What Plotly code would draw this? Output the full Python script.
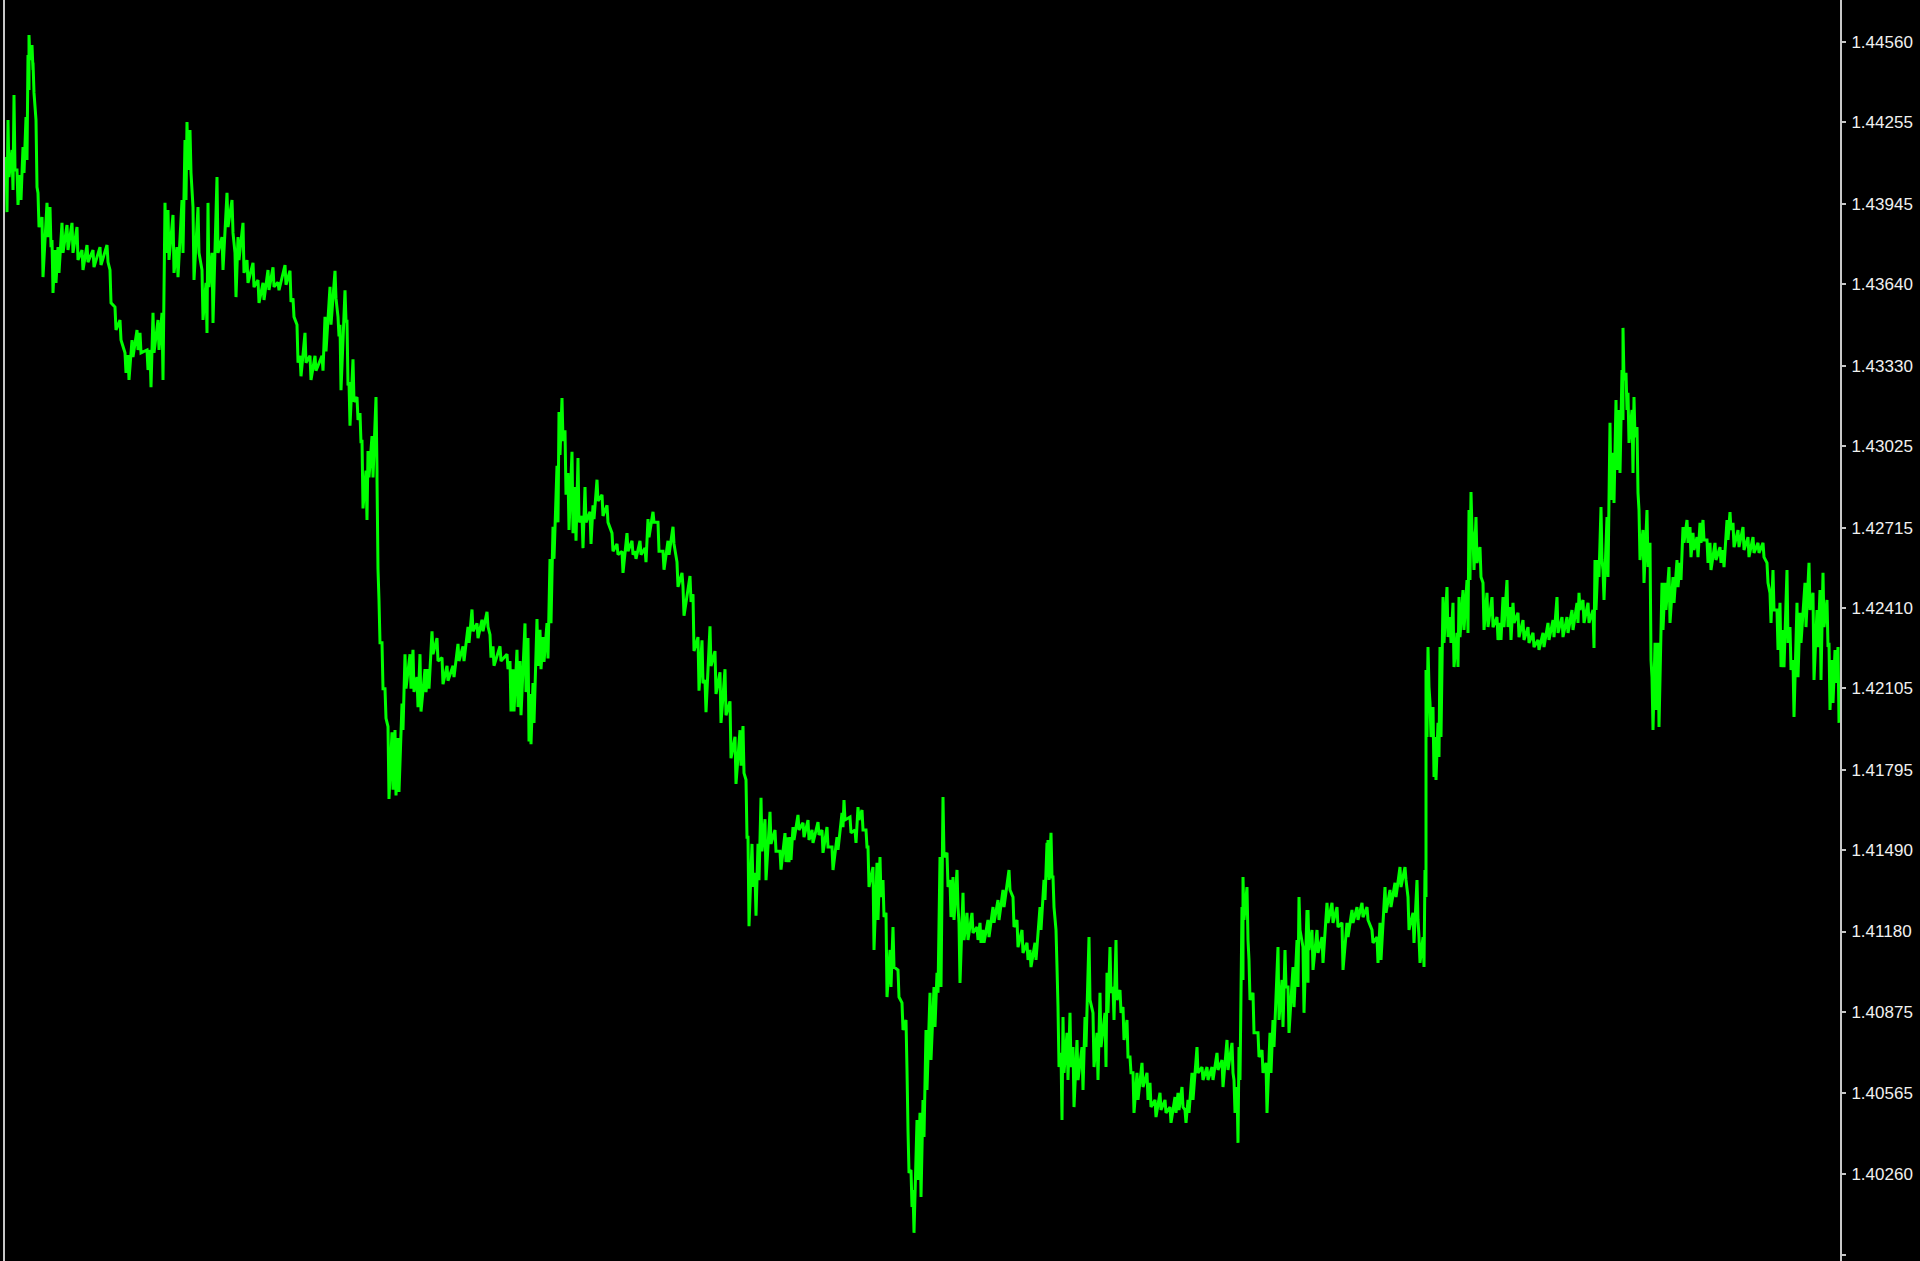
import plotly.graph_objects as go

# Bar index (time) and the upper / lower envelope of the close line per bar group
bars = [6,8,12,14,17,20,23,26,28,29,32,33,36,38,42,47,50,52,55,58,62,67,72,77,82,87,93,100,107,110,115,120,125,128,132,137,140,147,150,153,158,162,165,168,173,177,182,185,187,190,193,198,202,206,208,212,217,222,227,232,235,238,243,247,253,258,263,268,
        273,278,285,290,293,297,300,305,310,315,322,325,330,335,338,340,345,347,349,353,357,360,362,366,368,372,376,377,379,382,385,388,392,395,398,402,405,410,413,417,420,425,428,432,437,442,447,453,458,463,468,472,477,482,487,490,493,500,507,510,513,517,520,525,528,
        530,533,537,540,543,547,550,553,557,559,562,565,568,572,575,578,582,585,590,593,597,602,607,612,617,622,627,632,635,640,645,648,653,658,663,668,673,677,682,683,690,693,698,702,705,710,715,720,725,730,735,740,743,746,748,752,755,758,761,765,770,775,780,785,788,
        790,793,798,803,808,812,818,822,827,832,837,842,844,850,855,858,862,866,868,873,877,880,883,886,890,893,898,902,906,908,911,913,917,920,923,926,930,934,937,940,943,947,950,953,957,959,963,967,972,977,980,983,988,993,998,1003,1009,1013,1017,1022,1027,1030,1035,1040,1044,1047,
        1048,1051,1053,1056,1058,1061,1063,1067,1070,1073,1077,1082,1085,1089,1093,1097,1100,1105,1107,1110,1113,1116,1120,1123,1127,1130,1133,1137,1142,1147,1150,1155,1160,1165,1170,1175,1178,1182,1185,1188,1192,1197,1202,1207,1212,1217,1222,1227,1232,1234,1237,1239,1242,1243,1247,1249,1253,1258,1262,1266,1270,1273,1278,1282,1285,1288,1293,1297,1299,1303,1307,
        1308,1312,1317,1322,1327,1332,1337,1342,1347,1352,1357,1362,1367,1372,1377,1380,1385,1390,1395,1400,1405,1408,1413,1417,1419,1423,1425,1426,1428,1430,1433,1435,1438,1440,1443,1447,1450,1453,1457,1459,1463,1467,1469,1471,1473,1476,1480,1483,1487,1492,1497,1500,1503,1507,1510,1513,1518,1523,1528,1533,1538,1543,1548,1553,1557,1562,1567,
        1572,1577,1579,1583,1588,1593,1595,1598,1601,1603,1607,1610,1613,1616,1619,1622,1623,1626,1628,1632,1634,1637,1639,1643,1647,1650,1652,1655,1658,1662,1665,1669,1673,1677,1680,1683,1687,1690,1693,1697,1700,1703,1707,1710,1715,1720,1723,1727,1730,1733,1738,1743,1748,1753,1758,1763,1767,1770,1773,1777,1780,1783,1787,1790,1793,1797,1800,1805,1809,1813,1817,1820,1823,1827,1829,1832,1835,1838]

highs = [1.44123,1.44264,1.44150,1.44359,1.44074,1.44055,1.44161,1.44275,1.44511,1.44587,1.44549,1.44481,1.44264,1.43987,1.43895,1.43949,1.43933,1.43808,1.43770,1.43781,1.43873,1.43865,1.43873,1.43857,1.43770,1.43789,1.43770,1.43781,1.43789,1.43694,1.43553,1.43504,1.43379,1.43371,1.43428,1.43466,1.43455,1.43390,1.43390,1.43531,1.43504,1.43531,1.43949,1.43922,1.43903,1.43781,1.43960,1.44188,1.44256,1.44226,1.43933,1.43933,1.43694,1.43645,1.43949,1.43759,1.44047,1.43819,1.43987,1.43960,1.43759,1.43819,1.43873,1.43732,1.43721,1.43656,1.43645,1.43694,
         1.43704,1.43647,1.43713,1.43691,1.43586,1.43486,1.43368,1.43455,1.43368,1.43368,1.43368,1.43516,1.43630,1.43691,1.43516,1.43486,1.43617,1.43499,1.43268,1.43355,1.43211,1.43150,1.43049,1.42932,1.43006,1.43063,1.43211,1.42906,1.42439,1.42277,1.42103,1.41959,1.41937,1.41946,1.41915,1.42046,1.42234,1.42234,1.42251,1.42147,1.42234,1.42177,1.42177,1.42321,1.42295,1.42221,1.42190,1.42190,1.42273,1.42264,1.42338,1.42404,1.42351,1.42365,1.42395,1.42308,1.42264,1.42264,1.42234,1.42208,1.42177,1.42251,1.42208,1.42351,1.42295,
         1.42083,1.42124,1.42368,1.42327,1.42299,1.42352,1.42596,1.42718,1.42950,1.43154,1.43207,1.43085,1.42922,1.43003,1.42869,1.42979,1.42759,1.42869,1.42775,1.42800,1.42897,1.42840,1.42800,1.42694,1.42653,1.42625,1.42694,1.42665,1.42625,1.42665,1.42637,1.42747,1.42775,1.42735,1.42625,1.42665,1.42718,1.42584,1.42543,1.42490,1.42531,1.42462,1.42299,1.42287,1.42136,1.42340,1.42246,1.42165,1.42177,1.42055,1.41920,1.41945,1.41961,1.41757,1.41538,1.41513,1.41403,1.41513,1.41688,1.41607,1.41635,1.41566,1.41485,1.41554,1.41538,
         1.41539,1.41577,1.41623,1.41593,1.41604,1.41566,1.41596,1.41566,1.41577,1.41501,1.41539,1.41631,1.41680,1.41615,1.41566,1.41653,1.41642,1.41566,1.41501,1.41425,1.41441,1.41463,1.41376,1.41251,1.41110,1.41197,1.41034,1.40909,1.40844,1.40426,1.40274,1.40198,1.40464,1.40491,1.40540,1.40806,1.40947,1.40969,1.41023,1.41463,1.41691,1.41479,1.41376,1.41387,1.41414,1.41213,1.41327,1.41251,1.41251,1.41197,1.41213,1.41186,1.41224,1.41273,1.41300,1.41338,1.41414,1.41311,1.41224,1.41186,1.41137,1.41110,1.41137,1.41273,1.41376,1.41517,
         1.41528,1.41555,1.41387,1.41186,1.40893,1.40719,1.40855,1.40795,1.40871,1.40741,1.40768,1.40741,1.40855,1.41159,1.40871,1.40795,1.40947,1.40871,1.41023,1.41121,1.40969,1.41148,1.40958,1.40893,1.40844,1.40703,1.40643,1.40643,1.40681,1.40643,1.40605,1.40540,1.40567,1.40540,1.40513,1.40551,1.40567,1.40589,1.40502,1.40540,1.40643,1.40741,1.40665,1.40665,1.40665,1.40719,1.40692,1.40768,1.40757,1.40616,1.40589,1.40741,1.41273,1.41387,1.41349,1.41072,1.40947,1.40795,1.40730,1.40681,1.40795,1.40844,1.41121,1.40996,1.41110,1.40969,1.41045,1.41148,1.41311,1.41121,1.41262,
         1.41262,1.41186,1.41186,1.41159,1.41289,1.41289,1.41273,1.41213,1.41213,1.41262,1.41273,1.41289,1.41273,1.41186,1.41159,1.41213,1.41349,1.41338,1.41365,1.41425,1.41425,1.41311,1.41251,1.41376,1.41159,1.41159,1.41414,1.42174,1.42261,1.42049,1.42033,1.41919,1.41973,1.42261,1.42451,1.42489,1.42375,1.42429,1.42315,1.42451,1.42478,1.42516,1.42782,1.42850,1.42679,1.42755,1.42641,1.42505,1.42467,1.42451,1.42375,1.42353,1.42451,1.42516,1.42413,1.42429,1.42391,1.42364,1.42337,1.42315,1.42288,1.42315,1.42353,1.42364,1.42451,1.42375,1.42375,
         1.42402,1.42429,1.42467,1.42440,1.42429,1.42402,1.42592,1.42592,1.42793,1.42554,1.42755,1.43113,1.42999,1.43200,1.43162,1.43314,1.43474,1.43303,1.43227,1.43162,1.43211,1.43097,1.42782,1.42706,1.42782,1.42657,1.42147,1.42277,1.42277,1.42505,1.42505,1.42565,1.42527,1.42592,1.42581,1.42717,1.42744,1.42717,1.42695,1.42679,1.42733,1.42744,1.42668,1.42657,1.42657,1.42641,1.42630,1.42744,1.42774,1.42733,1.42706,1.42717,1.42679,1.42679,1.42657,1.42657,1.42581,1.42467,1.42554,1.42402,1.42429,1.42326,1.42554,1.42337,1.42212,1.42429,1.42391,1.42505,1.42581,1.42467,1.42402,1.42478,1.42543,1.42440,1.42277,1.42212,1.42250,1.42261]

lows = [1.43914,1.44047,1.43998,1.44074,1.43941,1.43960,1.44063,1.44112,1.44378,1.44492,1.44454,1.44367,1.44009,1.43857,1.43667,1.43819,1.43781,1.43607,1.43645,1.43683,1.43759,1.43770,1.43759,1.43732,1.43694,1.43724,1.43705,1.43713,1.43724,1.43569,1.43466,1.43428,1.43303,1.43276,1.43363,1.43390,1.43379,1.43314,1.43249,1.43379,1.43390,1.43276,1.43759,1.43732,1.43683,1.43667,1.43759,1.43960,1.44074,1.44063,1.43656,1.43759,1.43504,1.43455,1.43629,1.43493,1.43759,1.43694,1.43857,1.43835,1.43591,1.43732,1.43683,1.43645,1.43629,1.43569,1.43580,1.43618,
        1.43630,1.43617,1.43638,1.43573,1.43516,1.43342,1.43290,1.43342,1.43276,1.43311,1.43311,1.43385,1.43486,1.43586,1.43442,1.43237,1.43499,1.43255,1.43102,1.43193,1.43124,1.43036,1.42788,1.42744,1.42906,1.42906,1.42932,1.42557,1.42277,1.42103,1.41990,1.41684,1.41719,1.41697,1.41710,1.41946,1.42103,1.42103,1.42090,1.42033,1.42016,1.42090,1.42103,1.42234,1.42208,1.42120,1.42133,1.42147,1.42208,1.42208,1.42277,1.42321,1.42295,1.42321,1.42338,1.42221,1.42190,1.42208,1.42177,1.42016,1.42016,1.42033,1.42002,1.42090,1.41902,
        1.41892,1.41973,1.42189,1.42177,1.42205,1.42218,1.42352,1.42596,1.42735,1.42991,1.43044,1.42840,1.42706,1.42694,1.42665,1.42735,1.42637,1.42735,1.42653,1.42747,1.42816,1.42759,1.42735,1.42625,1.42612,1.42543,1.42625,1.42612,1.42596,1.42612,1.42584,1.42678,1.42735,1.42625,1.42555,1.42612,1.42653,1.42490,1.42490,1.42380,1.42433,1.42246,1.42095,1.42124,1.42014,1.42189,1.42083,1.41973,1.42002,1.41839,1.41741,1.41810,1.41782,1.41538,1.41200,1.41350,1.41240,1.41375,1.41485,1.41375,1.41513,1.41485,1.41415,1.41444,1.41444,
        1.41452,1.41528,1.41566,1.41539,1.41528,1.41517,1.41547,1.41479,1.41501,1.41414,1.41490,1.41577,1.41604,1.41555,1.41517,1.41604,1.41566,1.41501,1.41349,1.41110,1.41224,1.41311,1.41235,1.40931,1.40969,1.41045,1.40931,1.40806,1.40654,1.40263,1.40133,1.40035,1.40236,1.40171,1.40399,1.40578,1.40692,1.40817,1.40947,1.40969,1.41463,1.41349,1.41235,1.41224,1.41273,1.40985,1.41148,1.41148,1.41175,1.41148,1.41137,1.41137,1.41159,1.41213,1.41224,1.41273,1.41338,1.41197,1.41121,1.41099,1.41072,1.41045,1.41072,1.41186,1.41300,1.41387,
        1.41376,1.41387,1.41273,1.41045,1.40665,1.40464,1.40643,1.40616,1.40665,1.40513,1.40616,1.40578,1.40741,1.40920,1.40665,1.40616,1.40741,1.40665,1.40871,1.40947,1.40844,1.40920,1.40871,1.40768,1.40703,1.40643,1.40491,1.40540,1.40589,1.40540,1.40513,1.40475,1.40502,1.40491,1.40453,1.40491,1.40502,1.40513,1.40453,1.40491,1.40540,1.40643,1.40616,1.40616,1.40616,1.40654,1.40589,1.40654,1.40643,1.40491,1.40377,1.40616,1.40996,1.41224,1.41148,1.40920,1.40795,1.40703,1.40643,1.40491,1.40643,1.40741,1.40844,1.40817,1.40969,1.40795,1.40893,1.40969,1.41186,1.40871,1.40985,
        1.41110,1.41034,1.41099,1.41061,1.41213,1.41213,1.41197,1.41034,1.41159,1.41213,1.41224,1.41235,1.41224,1.41137,1.41061,1.41072,1.41251,1.41273,1.41311,1.41349,1.41376,1.41186,1.41137,1.41224,1.41061,1.41045,1.41311,1.41919,1.42109,1.41919,1.41767,1.41756,1.41843,1.41919,1.42277,1.42299,1.42277,1.42185,1.42185,1.42299,1.42326,1.42315,1.42516,1.42706,1.42554,1.42581,1.42527,1.42326,1.42337,1.42337,1.42288,1.42288,1.42337,1.42337,1.42288,1.42353,1.42299,1.42288,1.42277,1.42261,1.42250,1.42261,1.42288,1.42299,1.42315,1.42299,1.42315,
        1.42326,1.42353,1.42402,1.42353,1.42353,1.42258,1.42402,1.42527,1.42592,1.42440,1.42527,1.42820,1.42809,1.42934,1.42923,1.43124,1.43276,1.43162,1.43037,1.42923,1.43059,1.42847,1.42592,1.42505,1.42565,1.42212,1.41946,1.42022,1.41957,1.42326,1.42402,1.42353,1.42429,1.42489,1.42516,1.42657,1.42657,1.42603,1.42630,1.42603,1.42657,1.42668,1.42581,1.42554,1.42592,1.42581,1.42565,1.42668,1.42706,1.42641,1.42641,1.42630,1.42603,1.42619,1.42619,1.42603,1.42505,1.42353,1.42402,1.42250,1.42185,1.42185,1.42277,1.42174,1.41995,1.42147,1.42277,1.42337,1.42402,1.42136,1.42261,1.42136,1.42337,1.42261,1.42022,1.42049,1.42125,1.41973]

tick_labels = ["1.44560","1.44255","1.43945","1.43640","1.43330","1.43025","1.42715","1.42410",
               "1.42105","1.41795","1.41490","1.41180","1.40875","1.40565","1.40260","1.39950"]

price_min = 1.39928
price_max = 1.44720

xs, ys = [], []
for b, h, l in zip(bars, highs, lows):
    xs += [b, b + 1]
    ys += [h, l]

fig = go.Figure()
fig.add_trace(go.Scatter(
    x=xs, y=ys, mode="lines",
    line=dict(color="#00ff00", width=3, simplify=False),
    hoverinfo="skip", showlegend=False,
))

fig.update_layout(
    width=1920, height=1261,
    margin=dict(l=5, r=80, t=0, b=0, pad=0),
    paper_bgcolor="#000000", plot_bgcolor="#000000",
    showlegend=False,
    xaxis=dict(visible=False, range=[5, 1840], fixedrange=True),
    yaxis=dict(
        side="right", range=[price_min, price_max],
        tickvals=[float(t) for t in tick_labels], ticktext=tick_labels,
        showgrid=False, zeroline=False,
        showline=True, linecolor="#c8c8c8", linewidth=2, mirror=True,
        ticks="outside", ticklen=4, tickwidth=2, tickcolor="#c8c8c8",
        ticklabelstandoff=2,
        tickfont=dict(family="Tahoma, 'Liberation Sans', Arial, sans-serif", size=17, color="#f0f0f0"),
        fixedrange=True,
    ),
)

fig.write_html("out.html", config={"displayModeBar": False, "staticPlot": True},
               post_script="document.body.style.margin='0';document.body.style.overflow='hidden';")
